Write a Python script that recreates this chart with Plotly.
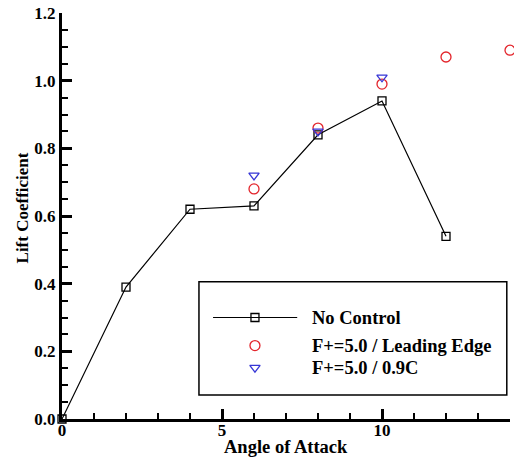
import plotly.graph_objects as go

# Lift coefficient vs. angle of attack
alpha_base = [0, 2, 4, 6, 8, 10, 12]
cl_base = [0.0, 0.39, 0.62, 0.63, 0.84, 0.94, 0.54]

alpha_le = [6, 8, 10, 12, 14]
cl_le = [0.68, 0.86, 0.99, 1.07, 1.09]

alpha_09c = [6, 8, 10]
cl_09c = [0.72, 0.85, 1.01]

series_names = ["No Control", "F+=5.0 / Leading Edge", "F+=5.0 / 0.9C"]

RED = "#e3242b"
BLUE = "#3636d6"
FONT = dict(family="Liberation Serif, Times New Roman, serif", color="black", weight="bold")

SQ = dict(symbol="square-open", size=8, color="black", line=dict(width=1.3))
CI = dict(symbol="circle-open", size=10, color=RED, line=dict(width=1.3))
TR = dict(symbol="triangle-down-open", size=9, color=BLUE, line=dict(width=1.3))

fig = go.Figure()

fig.add_trace(go.Scatter(x=alpha_base, y=cl_base, mode="lines+markers", name=series_names[0],
                         line=dict(color="black", width=1.2), marker=SQ,
                         cliponaxis=False, showlegend=False))
fig.add_trace(go.Scatter(x=alpha_le, y=cl_le, mode="markers", name=series_names[1],
                         marker=CI, cliponaxis=False, showlegend=False))
fig.add_trace(go.Scatter(x=alpha_09c, y=cl_09c, mode="markers", name=series_names[2],
                         marker=TR, cliponaxis=False, showlegend=False))

# Boxed key in the lower right (positions in axis units)
key_line_x = [4.72, 7.35]
key_mark_x = 6.03
key_text_x = 7.75
key_rows = [0.300, 0.217, 0.152]
key_box = dict(x0=4.28, x1=13.9, y0=0.071, y1=0.406)

fig.add_trace(go.Scatter(x=key_line_x, y=[key_rows[0]] * 2, mode="lines",
                         line=dict(color="black", width=1.2), showlegend=False, hoverinfo="skip"))
for row, mk in zip(key_rows, [SQ, CI, TR]):
    fig.add_trace(go.Scatter(x=[key_mark_x], y=[row], mode="markers", marker=mk,
                             showlegend=False, hoverinfo="skip"))

annotations = []
for name, yy in zip(series_names, key_rows):
    annotations.append(dict(text=name, x=key_text_x, y=yy, xref="x", yref="y",
                            xanchor="left", yanchor="middle", showarrow=False,
                            font=dict(size=18.5, **FONT)))

# Axis titles
annotations.append(dict(text="Angle of Attack", x=0.5, y=-0.068, xref="paper", yref="paper",
                        xanchor="center", yanchor="middle", showarrow=False,
                        font=dict(size=18.5, **FONT)))
annotations.append(dict(text="Lift Coefficient", x=-0.088, y=0.52, xref="paper", yref="paper",
                        xanchor="center", yanchor="middle", textangle=-90, showarrow=False,
                        font=dict(size=17, **FONT)))

fig.update_layout(
    width=514, height=459,
    margin=dict(l=62, r=4, t=11, b=40),
    paper_bgcolor="white", plot_bgcolor="white",
    font=dict(size=16, **FONT),
    annotations=annotations,
    shapes=[dict(type="rect", xref="x", yref="y", **key_box,
                 line=dict(color="black", width=1.5), fillcolor="rgba(0,0,0,0)")],
    xaxis=dict(range=[0, 14], dtick=5, tick0=0, showgrid=False, zeroline=False,
               showline=True, linecolor="black", linewidth=3,
               ticks="inside", ticklen=10, tickwidth=3, tickcolor="black",
               minor=dict(dtick=1, ticks="inside", ticklen=6, tickwidth=1.5,
                          tickcolor="black", showgrid=False),
               tickfont=dict(size=17, **FONT), ticklabelstandoff=-6),
    yaxis=dict(range=[0, 1.2], dtick=0.2, tick0=0, tickformat=".1f", showgrid=False, zeroline=False,
               showline=True, linecolor="black", linewidth=3,
               ticks="inside", ticklen=10, tickwidth=3, tickcolor="black",
               minor=dict(dtick=0.05, ticks="inside", ticklen=6, tickwidth=1.5,
                          tickcolor="black", showgrid=False),
               tickfont=dict(size=17, **FONT), ticklabelstandoff=0),
)

fig.write_html("out.html")
